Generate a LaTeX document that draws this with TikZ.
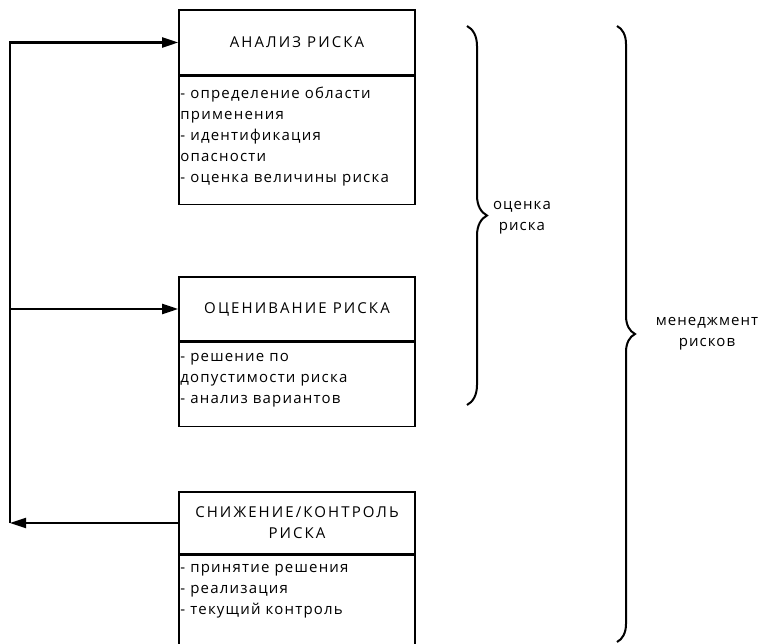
\documentclass[tikz,border=0pt]{standalone}
\usepackage{fontspec}
\setmainfont{Open Sans}
\usetikzlibrary{arrows.meta,decorations.pathreplacing}

\begin{document}
\begin{tikzpicture}[x=1pt,y=-1pt,
  head/.style={draw, line width=1.6pt, minimum width=236pt, inner sep=0pt,
    align=center, font=\fontsize{15}{21}\selectfont\addfontfeatures{LetterSpace=14}},
  list/.style={draw, line width=1.6pt, minimum width=236pt, inner sep=0pt},
  items/.style={anchor=north west, inner sep=0pt, align=left,
    font=\fontsize{15}{21}\selectfont\addfontfeatures{LetterSpace=8}},
  note/.style={align=center, inner sep=0pt,
    font=\fontsize{15}{21}\selectfont\addfontfeatures{LetterSpace=7}},
  link/.style={line width=2.2pt},
  feed/.style={link, -{Triangle[length=16pt,width=10pt]}},
  bracket/.style={line width=2pt, decorate},
]
\useasboundingbox (0,0) rectangle (761,644);

% risk analysis
\node[head, minimum height=65pt] (t1) at (297,42.5) {АНАЛИЗ РИСКА};
\node[list, minimum height=128pt, anchor=north] (b1) at (t1.south) {};
\node[items, xshift=2pt, yshift=-11pt] (i1) at (b1.north west)
  {- определение области\\применения\\- идентификация\\опасности\\- оценка величины риска};

% risk evaluation
\node[head, minimum height=64pt] (t2) at (297,309) {ОЦЕНИВАНИЕ РИСКА};
\node[list, minimum height=84pt, anchor=north] (b2) at (t2.south) {};
\node[items, xshift=2pt, yshift=-11pt] (i2) at (b2.north west)
  {- решение по\\допустимости риска\\- анализ вариантов};

% risk reduction / control
\node[head, minimum height=62pt] (t3) at (297,523) {СНИЖЕНИЕ/КОНТРОЛЬ\\РИСКА};
\node[list, minimum height=89pt, anchor=north] (b3) at (t3.south) {};
\node[items, xshift=2pt, yshift=-9pt] (i3) at (b3.north west)
  {- принятие решения\\- реализация\\- текущий контроль};

% feedback loop on the left
\coordinate (spine) at (10,0);
\draw[feed] (t3.west) -- (t3.west -| spine);
\draw[feed] (t3.west -| spine) -- (t1.west -| spine) -- (t1.west);
\draw[feed] (t2.west -| spine) -- (t2.west);

% grouping braces
\draw[bracket, decoration={brace, amplitude=20pt}] (467,26) -- (467,405);
\node[note] (lab1) at (522,218) {оценка\\риска};
\draw[bracket, decoration={brace, amplitude=18pt}] (617,26) -- (617,642);
\node[note] (lab2) at (707,334) {менеджмент\\рисков};
\end{tikzpicture}
\end{document}
